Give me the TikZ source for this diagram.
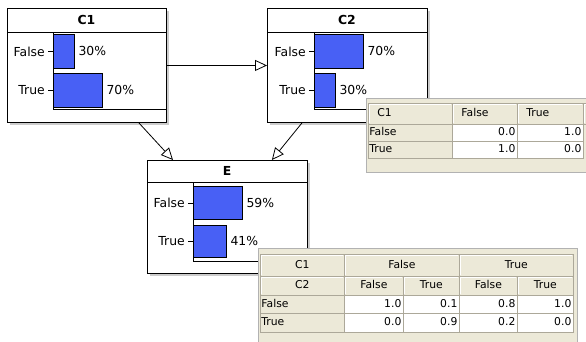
\documentclass[tikz,border=0pt]{standalone}
\usepackage{fontspec}
\setmainfont{DejaVu Sans}
\usetikzlibrary{arrows.meta,shadows}
\definecolor{barblue}{RGB}{72,96,245}
\definecolor{xpbeige}{RGB}{236,233,216}
\definecolor{xpgrid}{RGB}{172,168,153}
\newcommand{\boxfont}{\fontsize{12.4}{14}\selectfont}
\newcommand{\tabfont}{\fontsize{10.8}{13}\selectfont}
\begin{document}
\begin{tikzpicture}[x=1pt,y=-1pt,
  netbox/.style={draw=black, fill=white, line width=0.9pt, anchor=north west, inner sep=0pt,
    drop shadow={shadow xshift=2.5pt, shadow yshift=-2.5pt, fill=black!20, opacity=1}},
  ttl/.style={font=\bfseries\boxfont, inner sep=0pt},
  lbl/.style={font=\boxfont, inner sep=1pt, anchor=east},
  pct/.style={font=\boxfont, inner sep=1pt, anchor=west},
  pbar/.style={draw=black, fill=barblue, line width=0.9pt, anchor=north west, inner sep=0pt},
  inner/.style={line width=0.9pt},
  conn/.style={line width=0.8pt, -{Triangle[length=12pt,width=11pt,fill=white,line width=0.8pt]}},
  tframe/.style={draw=black!30, fill=xpbeige, line width=0.8pt},
  tcell/.style={draw=xpgrid, line width=0.8pt, anchor=north west, inner ysep=0pt,
    font=\tabfont, text height=8.2pt, text depth=2.2pt},
  thdr/.style={tcell, fill=xpbeige,
    path picture={\draw[white,line width=1.2pt]
      ([xshift=1pt,yshift=1pt]path picture bounding box.south west) |-
      ([xshift=-1pt,yshift=-1pt]path picture bounding box.north east);}},
  thdrL/.style={thdr, inner xsep=9pt, align=left},
  thdrC/.style={thdr, inner xsep=2pt, align=center},
  tlab/.style={tcell, fill=xpbeige, inner xsep=1pt, align=left},
  tval/.style={tcell, fill=white, inner xsep=2pt, align=right}
]
\useasboundingbox[fill=white] (0,0) rectangle (586,341);

% ---------- C1 ----------
\node[netbox, minimum width=159pt, minimum height=114pt] (c1) at (7,8) {};
\node[ttl] (c1t) at (86.5,20) {C1};
\draw[inner] (7,32) -- (166,32);
\draw[inner] (53,32) -- (53,109) -- (166,109);
\node[pbar, minimum width=21pt, minimum height=34pt] (c1f) at (53,34) {};
\node[pbar, minimum width=49pt, minimum height=34pt] (c1r) at (53,73) {};
\draw[inner] ([xshift=-5pt]c1f.west) -- (c1f.west);
\draw[inner] ([xshift=-5pt]c1r.west) -- (c1r.west);
\node[lbl] (c1fl) at ([xshift=-7pt]c1f.west) {False};
\node[lbl] (c1rl) at ([xshift=-7pt]c1r.west) {True};
\node[pct] (c1fp) at ([xshift=2.5pt]c1f.east) {30\%};
\node[pct] (c1rp) at ([xshift=2.5pt]c1r.east) {70\%};

% ---------- C2 ----------
\node[netbox, minimum width=160pt, minimum height=114pt] (c2) at (267,8) {};
\node[ttl] (c2t) at (347,20) {C2};
\draw[inner] (267,32) -- (427,32);
\draw[inner] (314,32) -- (314,109) -- (427,109);
\node[pbar, minimum width=49pt, minimum height=34pt] (c2f) at (314,34) {};
\node[pbar, minimum width=21pt, minimum height=34pt] (c2r) at (314,73) {};
\draw[inner] ([xshift=-5pt]c2f.west) -- (c2f.west);
\draw[inner] ([xshift=-5pt]c2r.west) -- (c2r.west);
\node[lbl] (c2fl) at ([xshift=-7pt]c2f.west) {False};
\node[lbl] (c2rl) at ([xshift=-7pt]c2r.west) {True};
\node[pct] (c2fp) at ([xshift=2.5pt]c2f.east) {70\%};
\node[pct] (c2rp) at ([xshift=2.5pt]c2r.east) {30\%};

% ---------- E ----------
\node[netbox, minimum width=160pt, minimum height=113pt] (e) at (147,160) {};
\node[ttl] (et) at (227,171) {E};
\draw[inner] (147,182) -- (307,182);
\draw[inner] (193,182) -- (193,261) -- (307,261);
\node[pbar, minimum width=49pt, minimum height=33pt] (ef) at (193,186) {};
\node[pbar, minimum width=33pt, minimum height=32pt] (er) at (193,225) {};
\draw[inner] ([xshift=-5pt]ef.west) -- (ef.west);
\draw[inner] ([xshift=-5pt]er.west) -- (er.west);
\node[lbl] (efl) at ([xshift=-7pt]ef.west) {False};
\node[lbl] (erl) at ([xshift=-7pt]er.west) {True};
\node[pct] (efp) at ([xshift=2.5pt]ef.east) {59\%};
\node[pct] (erp) at ([xshift=2.5pt]er.east) {41\%};

% ---------- connectors ----------
\draw[conn] (c1.east) -- (c2.west);
\draw[conn] ([xshift=-28pt]c1.south east) -- ([xshift=26pt]e.north west);
\draw[conn] ([xshift=35pt]c2.south west) -- ([xshift=-36pt]e.north east);

% ---------- table for C2 ----------
\draw[tframe] (366,98) rectangle (600,172);
\node[thdrL, minimum height=21pt, text width=66pt] (t1h0) at (368,103) {C1};
\node[thdrL, minimum height=21pt, text width=47pt] (t1h1) at (452,103) {False};
\node[thdrL, minimum height=21pt, text width=48pt] (t1h2) at (517,103) {True};
\node[thdrL, minimum height=21pt, text width=2pt] (t1h3) at (583,103) {};
\node[tlab, minimum height=17pt, text width=82pt] (t1a0) at (368,124) {False};
\node[tval, minimum height=17pt, text width=61pt] (t1a1) at (452,124) {0.0};
\node[tval, minimum height=17pt, text width=62pt] (t1a2) at (517,124) {1.0};
\node[tlab, minimum height=17pt, text width=82pt] (t1b0) at (368,141) {True};
\node[tval, minimum height=17pt, text width=61pt] (t1b1) at (452,141) {1.0};
\node[tval, minimum height=17pt, text width=62pt] (t1b2) at (517,141) {0.0};

% ---------- table for E ----------
\draw[tframe] (258,248) rectangle (577,350);
\node[thdrC, minimum height=22pt, text width=80pt] (t2h0) at (260,254) {C1};
\node[thdrC, minimum height=22pt, text width=111pt] (t2h1) at (344,254) {False};
\node[thdrC, minimum height=22pt, text width=110pt] (t2h2) at (459,254) {True};
\node[thdrC, minimum height=19pt, text width=80pt] (t2g0) at (260,276) {C2};
\node[thdrC, minimum height=19pt, text width=55pt] (t2g1) at (344,276) {False};
\node[thdrC, minimum height=19pt, text width=52pt] (t2g2) at (403,276) {True};
\node[thdrC, minimum height=19pt, text width=54pt] (t2g3) at (459,276) {False};
\node[thdrC, minimum height=19pt, text width=52pt] (t2g4) at (517,276) {True};
\node[tlab, minimum height=18pt, text width=82pt] (t2a0) at (260,295) {False};
\node[tval, minimum height=18pt, text width=55pt] (t2a1) at (344,295) {1.0};
\node[tval, minimum height=18pt, text width=52pt] (t2a2) at (403,295) {0.1};
\node[tval, minimum height=18pt, text width=54pt] (t2a3) at (459,295) {0.8};
\node[tval, minimum height=18pt, text width=52pt] (t2a4) at (517,295) {1.0};
\node[tlab, minimum height=19pt, text width=82pt] (t2b0) at (260,313) {True};
\node[tval, minimum height=19pt, text width=55pt] (t2b1) at (344,313) {0.0};
\node[tval, minimum height=19pt, text width=52pt] (t2b2) at (403,313) {0.9};
\node[tval, minimum height=19pt, text width=54pt] (t2b3) at (459,313) {0.2};
\node[tval, minimum height=19pt, text width=52pt] (t2b4) at (517,313) {0.0};
\end{tikzpicture}
\end{document}
